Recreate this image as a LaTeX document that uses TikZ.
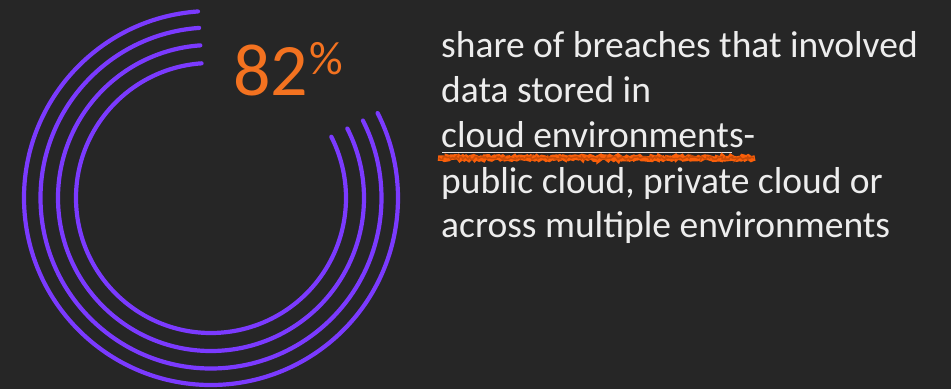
\documentclass[tikz,border=0pt]{standalone}
\usepackage{fontspec}
\setmainfont{Carlito}
\usetikzlibrary{decorations.pathmorphing}
\definecolor{bgdark}{RGB}{38,38,38}
\definecolor{ringpurple}{RGB}{123,58,255}
\definecolor{statorange}{RGB}{243,114,32}
\definecolor{scribble}{RGB}{250,95,10}
\begin{document}
\begin{tikzpicture}[x=1pt,y=1pt,
  ring/.style={draw=ringpurple,line width=4.2pt,line cap=round},
  bodytext/.style={anchor=base west,inner sep=0pt,text=white!93!black,
    font=\fontsize{37.5}{44}\selectfont},
  stat/.style={anchor=base west,inner sep=0pt,text=statorange}]
  % canvas
  \fill[bgdark] (0,0) rectangle (951,389);
  \useasboundingbox (0,0) rectangle (951,389);
  % concentric progress rings, 82% of a full turn each
  \coordinate (c) at (211,191);
  \foreach \r in {187,170.5,153,135}
    \draw[ring] (c) ++(94:\r) arc[start angle=94,end angle=387,radius=\r];
  % headline figure
  \node[stat,font=\fontsize{74}{80}\selectfont] (num) at (233,293) {82};
  \node[stat,font=\fontsize{47}{50}\selectfont] (pct) at (309,314) {\%};
  % description
  \node[bodytext] (l1) at (441,331) {share of breaches that involved};
  \node[bodytext] (l2) at (441,286) {data stored in};
  \node[bodytext] (l3) at (441,241) {cloud environments-};
  \node[bodytext] (l4) at (441,196) {public cloud, private cloud or};
  \node[bodytext] (l5) at (441,152) {across multiple environments};
  % underline and hand-drawn highlight
  \draw[white!90!black,line width=1pt] (l3.base west) ++(1,-5) -- ++(290,0);
  \draw[scribble,line width=5.5pt,
    decorate,decoration={random steps,segment length=2pt,amplitude=1.3pt}]
    (l3.base west) ++(-3,-10) -- ++(317,0);
  \draw[scribble!80!black,line width=1.5pt,
    decorate,decoration={random steps,segment length=1.5pt,amplitude=1.5pt}]
    (l3.base west) ++(-2,-10) -- ++(315,0);
\end{tikzpicture}
\end{document}
